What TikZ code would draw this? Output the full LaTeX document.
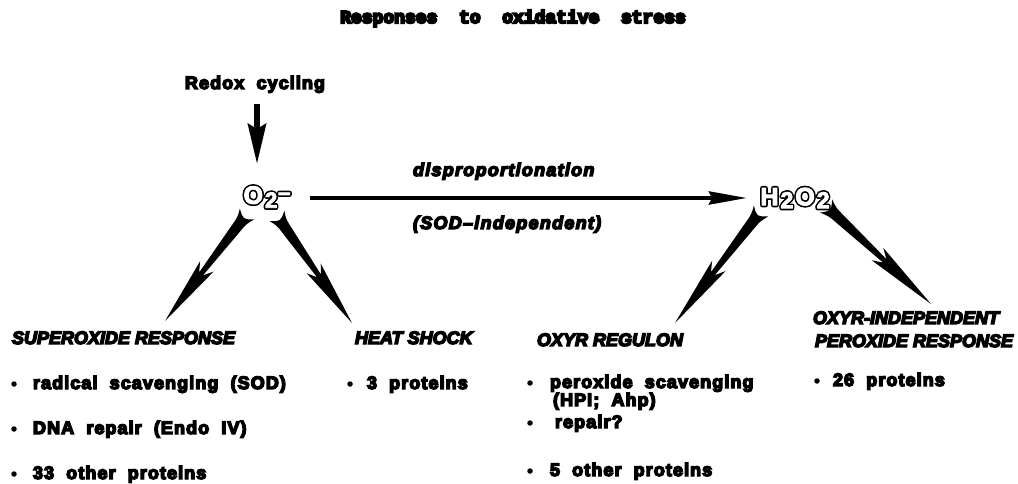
\documentclass[tikz,border=0pt]{standalone}
\usepackage{fontspec}
\setmainfont{Liberation Sans}
\newfontfamily\bodyf{Liberation Sans Bold}[FakeBold=8,WordSpace=2,LetterSpace=6]
\newfontfamily\headf{Liberation Sans Bold Italic}[FakeBold=8]
\newfontfamily\labf{Liberation Sans Bold Italic}[FakeBold=8,LetterSpace=7,WordSpace=2]
\newfontfamily\titlef{Liberation Mono Bold}[FakeBold=12]
\newfontfamily\outf{Liberation Sans Bold}[FakeBold=4]
\usetikzlibrary{calc,arrows.meta}
\newcommand\outl[1]{{\setbox0\hbox{#1}%
 \rlap{\kern1.6pt\copy0}\rlap{\kern-1.6pt\copy0}\rlap{\raise1.6pt\copy0}\rlap{\lower1.6pt\copy0}%
 \rlap{\kern1.1pt\raise1.1pt\copy0}\rlap{\kern-1.1pt\raise1.1pt\copy0}\rlap{\kern1.1pt\lower1.1pt\copy0}\rlap{\kern-1.1pt\lower1.1pt\copy0}%
 \textcolor{white}{#1}}}
\newcommand\wedgearr[2]{%
 \fill ($(#1)!9pt!90:(#2)$) .. controls ($(#1)!0.06!(#2)!5.5pt!90:(#2)$) .. ($(#1)!0.16!(#2)!5pt!90:(#2)$)
  -- ($(#1)!0.56!(#2)!2.4pt!90:(#2)$) -- ($(#1)!0.49!(#2)!8.5pt!90:(#2)$) -- (#2)
  -- ($(#1)!0.49!(#2)!8.5pt!-90:(#2)$) -- ($(#1)!0.56!(#2)!2.4pt!-90:(#2)$)
  -- ($(#1)!0.16!(#2)!5pt!-90:(#2)$) .. controls ($(#1)!0.06!(#2)!5.5pt!-90:(#2)$) .. ($(#1)!9pt!-90:(#2)$)
  .. controls ($(#1)!0.05!(#2)$) .. cycle;}
\begin{document}
\begin{tikzpicture}[x=1pt,y=-1pt,
  every node/.style={inner sep=0pt,outer sep=0pt},
  head/.style={anchor=base west,font=\headf\fontsize{18}{20}\selectfont},
  item/.style={anchor=base west,font=\bodyf\fontsize{18}{20}\selectfont},
  lab/.style={anchor=base west,font=\labf\fontsize{18}{20}\selectfont},
  bul/.style={circle,fill=black,minimum size=5.5pt},
  outnode/.style={font=\outf\fontsize{25}{25}\selectfont}]
\useasboundingbox (0,0) rectangle (1018,484);
% title
\node[anchor=base,font=\titlef\fontsize{18}{20}\selectfont] (title) at (513,23) {Responses\ \ to\ \ oxidative\ \ stress};
% top
\node[item] (redox) at (185,89) {Redox cycling};
\node[outnode] (o2) at (267,197) {\outl{O\kern2pt\raisebox{-4pt}{\fontsize{22}{22}\selectfont 2}\kern1pt\raisebox{4pt}{\fontsize{22}{22}\selectfont –}}};
\node[outnode] (h2o2) at (795,198) {\outl{H\kern2pt\raisebox{-3pt}{\fontsize{23}{23}\selectfont 2}\kern2pt O\kern2pt\raisebox{-3pt}{\fontsize{23}{23}\selectfont 2}}};
\coordinate (dtop) at (257,104);
\coordinate (dbot) at (257,164);
\draw[line width=6pt,-{Stealth[length=40pt,width=18pt,inset=5pt]}] (dtop) -- (dbot);
\coordinate (hs) at (310,198);
\coordinate (he) at (747,198);
\draw[line width=4pt,-{Stealth[length=38pt,width=13pt,inset=3pt]}] (hs) -- (he);
\node[lab] (disp) at (413,176) {disproportionation};
\node[lab] (sodind) at (413,229) {(SOD–independent)};
% wedges
\coordinate (w1s) at (247,214); \coordinate (w1e) at (165,321);
\coordinate (w2s) at (277,216); \coordinate (w2e) at (352,323);
\coordinate (w3s) at (761,211); \coordinate (w3e) at (675,323);
\coordinate (w4s) at (826,206); \coordinate (w4e) at (931,304);
\wedgearr{w1s}{w1e}
\wedgearr{w2s}{w2e}
\wedgearr{w3s}{w3e}
\wedgearr{w4s}{w4e}
% headings
\node[head] (sup) at (12,344) {SUPEROXIDE RESPONSE};
\node[head] (heat) at (355,344) {HEAT SHOCK};
\node[head] (oxyr) at (537,346) {OXYR REGULON};
\node[head] (oxyi1) at (813,324) {OXYR-INDEPENDENT};
\node[head] (oxyi2) at (815,347) {PEROXIDE RESPONSE};
% items
\node[bul] (b1) at (14,384) {};
\node[item] (i1) at (33,389) {radical scavenging (SOD)};
\node[bul] (b2) at (14,429) {};
\node[item] (i2) at (33,434) {DNA repair (Endo IV)};
\node[bul] (b3) at (14,474) {};
\node[item] (i3) at (33,479) {33 other proteins};
\node[bul] (b4) at (350,384) {};
\node[item] (i4) at (367,389) {3 proteins};
\node[bul] (b5) at (530,383) {};
\node[item] (i5) at (550,388) {peroxide scavenging};
\node[item] (i5b) at (553,406) {(HPI; Ahp)};
\node[bul] (b6) at (530,423) {};
\node[item] (i6) at (555,428) {repair?};
\node[bul] (b7) at (530,471) {};
\node[item] (i7) at (550,476) {5 other proteins};
\node[bul] (b8) at (817,381) {};
\node[item] (i8) at (833,386) {26 proteins};
\end{tikzpicture}
\end{document}
